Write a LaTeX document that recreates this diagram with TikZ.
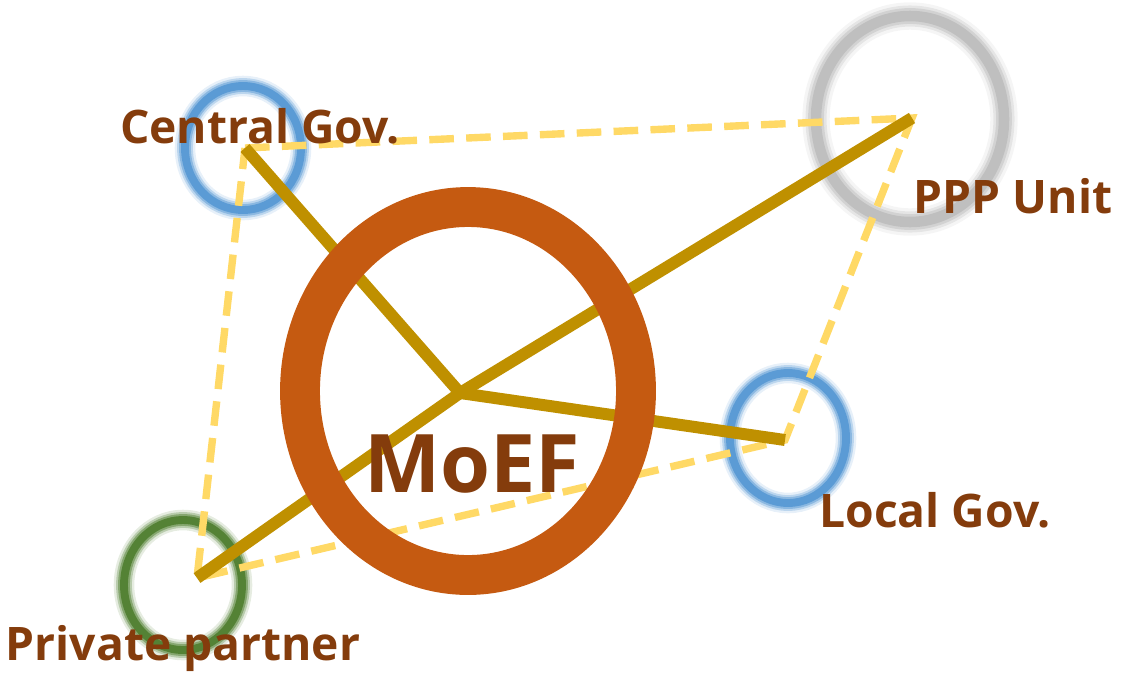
\documentclass[tikz,border=0pt]{standalone}
\usepackage{fontspec}
\setmainfont{Open Sans}
\usetikzlibrary{positioning}
\definecolor{ringorange}{HTML}{C55A11}
\definecolor{labelbrown}{HTML}{843C0C}
\definecolor{linkgold}{HTML}{BF9000}
\definecolor{tieyellow}{HTML}{FFD966}
\definecolor{haloblue}{HTML}{5B9BD5}
\definecolor{halogray}{HTML}{BFBFBF}
\definecolor{halogreen}{HTML}{548235}
\tikzset{
	link/.style={draw=linkgold, line width=6.8pt},
	tie/.style={draw=tieyellow, line width=4.2pt, dash pattern=on 14pt off 7pt},
	lbl/.style={text=labelbrown, font=\bfseries\fontsize{26.3}{30}\selectfont, anchor=base},
	hub/.style={text=labelbrown, font=\bfseries\fontsize{46}{50}\selectfont, anchor=base}
}
% soft ring: centre, x radius, y radius, colour, width
\newcommand{\haloring}[5]{
	\foreach \w/\o in {2.6/0.15,2/0.3,1.5/0.5,1/1}{
		\draw[#4, opacity=\o, line width=\w*#5] (#1) ellipse [x radius=#2, y radius=#3];
	}
}
\begin{document}
\begin{tikzpicture}[x=0.02cm, y=-0.02cm]
	\useasboundingbox (0,0) rectangle (1122,674);
	\coordinate (central) at (245,148);
	\coordinate (ppp) at (912,118);
	\coordinate (local) at (785,440);
	\coordinate (private) at (197,578);
	\coordinate (centre) at (460,393);
	% halos
	\haloring{243,148}{58}{62}{haloblue}{4.5pt}
	\haloring{910,119}{94}{103}{halogray}{6pt}
	\haloring{788,438}{58}{65}{haloblue}{4.5pt}
	\haloring{183,585}{59}{65}{halogreen}{4.5pt}
	% dashed ties
	\draw[tie] (central) -- (ppp) -- (local) -- (private) -- cycle;
	% links to the hub
	\foreach \p in {central,ppp,local,private}
		\draw[link] (centre) -- (\p);
	% ring
	\draw[ringorange, line width=22.7pt] (468,391) ellipse [x radius=168, y radius=184];
	\node[lbl] (centrallbl) at (260,143) {Central Gov.};
	\node[lbl] (ppplbl) at (1013,213) {PPP Unit};
	\node[lbl] (locallbl) at (935,527) {Local Gov.};
	\node[lbl] (privatelbl) at (183,660) {Private partner};
	\node[hub] (moef) at (472,492) {MoEF};
\end{tikzpicture}
\end{document}
